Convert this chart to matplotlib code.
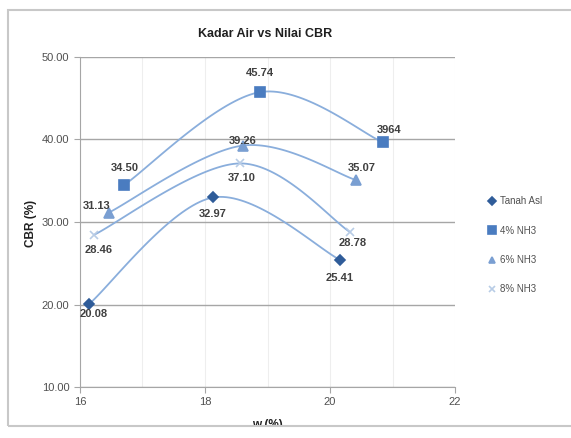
import numpy as np
import matplotlib
matplotlib.use("Agg")
import matplotlib.pyplot as plt
from matplotlib.patches import Rectangle
from matplotlib.lines import Line2D

plt.rcParams['font.family'] = ['Liberation Sans', 'DejaVu Sans']

# Data: water content (%) vs CBR (%)
series_names = ["Tanah Asl", "4% NH3", "6% NH3", "8% NH3"]
x_tanah = [16.15, 18.13, 20.16]
y_tanah = [20.08, 32.97, 25.41]
x_nh3_4 = [16.71, 18.88, 20.85]
y_nh3_4 = [34.50, 45.74, 39.64]
x_nh3_6 = [16.46, 18.60, 20.42]
y_nh3_6 = [31.13, 39.26, 35.07]
x_nh3_8 = [16.23, 18.56, 20.32]
y_nh3_8 = [28.46, 37.10, 28.78]
labels_tanah = ["20.08", "32.97", "25.41"]
labels_nh3_4 = ["34.50", "45.74", "3964"]
labels_nh3_6 = ["31.13", "39.26", "35.07"]
labels_nh3_8 = ["28.46", "37.10", "28.78"]
y_ticks = [10, 20, 30, 40, 50]
x_ticks = [16, 18, 20, 22]


def smooth(xs, ys, n=40):
    """Bezier smoothing through points (spreadsheet-style smoothed line)."""
    P = np.column_stack([xs, ys]).astype(float)
    out = []
    for i in range(len(P) - 1):
        p0 = P[i - 1] if i > 0 else P[i]
        p1, p2 = P[i], P[i + 1]
        p3 = P[i + 2] if i + 2 < len(P) else P[i + 1]
        c1 = p1 + (p2 - p0) / 6.0
        c2 = p2 - (p3 - p1) / 6.0
        t = np.linspace(0, 1, n)[:, None]
        seg = ((1 - t) ** 3) * p1 + 3 * ((1 - t) ** 2) * t * c1 + 3 * (1 - t) * t ** 2 * c2 + t ** 3 * p2
        out.append(seg if i == 0 else seg[1:])
    s = np.vstack(out)
    return s[:, 0], s[:, 1]


fig = plt.figure(figsize=(5.71, 4.38), dpi=100)
ax = fig.add_axes([0.140, 0.1164, 0.657, 0.7535])

line_color = "#8AAEDC"
styles = [
    dict(marker="D", color="#2F5C99", ms=5.5),
    dict(marker="s", color="#4A7CC0", ms=7.5),
    dict(marker="^", color="#7A9FD2", ms=6.5),
    dict(marker="x", color="#B8CCE6", ms=6),
]
xs_all = [x_tanah, x_nh3_4, x_nh3_6, x_nh3_8]
ys_all = [y_tanah, y_nh3_4, y_nh3_6, y_nh3_8]
labels_all = [labels_tanah, labels_nh3_4, labels_nh3_6, labels_nh3_8]
# label offsets in points
offsets = [
    [(3, -7.5), (0, -12), (0, -13)],
    [(0, 12), (0, 14), (4, 9)],
    [(-9, 5), (0, 3.5), (4, 9)],
    [(3, -11), (1, -10.5), (2, -8)],
]

for xs, ys, st, labs, offs in zip(xs_all, ys_all, styles, labels_all, offsets):
    sx, sy = smooth(xs, ys)
    ax.plot(sx, sy, color=line_color, lw=1.3, zorder=3)
    ax.plot(xs, ys, linestyle="none", marker=st["marker"], color=st["color"],
            ms=st["ms"], mec=st["color"], mew=1.2, zorder=4)
    for x, y, lab, off in zip(xs, ys, labs, offs):
        ax.annotate(lab, (x, y), xytext=off, textcoords="offset points",
                    ha="center", va="center", fontsize=8, fontweight="bold",
                    color="#404040", zorder=5)

ax.set_xlim(16, 22)
ax.set_ylim(10, 50)
ax.set_yticks(y_ticks)
ax.set_yticklabels([f"{v:.2f}" for v in y_ticks])
ax.set_xticks(x_ticks)
ax.set_xticklabels([str(v) for v in x_ticks])
ax.set_xticks([17, 19, 21], minor=True)
ax.grid(axis="y", color="#A6A6A6", lw=1.0, zorder=1)
ax.grid(axis="x", which="both", color="#EEEEEE", lw=0.8, zorder=0)
for side in ["top", "right"]:
    ax.spines[side].set_visible(False)
for side in ["left", "bottom"]:
    ax.spines[side].set_color("#A6A6A6")
ax.tick_params(axis="both", colors="#A6A6A6", labelcolor="#505050", labelsize=8, length=4)
ax.tick_params(axis="x", which="minor", length=0)
ax.set_axisbelow(True)

fig.text(0.465, 0.922, "Kadar Air vs Nilai CBR", ha="center", va="center",
         fontsize=9, fontweight="bold", color="#202020")
fig.text(0.055, 0.49, "CBR (%)", rotation=90, ha="center", va="center",
         fontsize=8.5, fontweight="bold", color="#202020")
fig.text(0.468, 0.029, "w (%)", ha="center", va="center",
         fontsize=8.5, fontweight="bold", color="#202020")

# bottom strip and chart border
fig.patches.append(Rectangle((0, 0), 1, 0.028, transform=fig.transFigure,
                             facecolor="white", edgecolor="none", zorder=10))
fig.patches.append(Rectangle((0.014, 0.028), 1.2, 0.95, transform=fig.transFigure,
                             facecolor="none", edgecolor="#C8C8C8", lw=1.5, zorder=11))

handles = [Line2D([], [], linestyle="none", marker=st["marker"], color=st["color"],
                  ms=st["ms"] - 1.5, mew=1.2) for st in styles]
fig.legend(handles, series_names, loc="center left", bbox_to_anchor=(0.84, 0.44),
           frameon=False, fontsize=7, labelcolor="#505050", handlelength=0.8,
           handletextpad=0.4, labelspacing=2.0)

fig.savefig("out.png", dpi=100)
